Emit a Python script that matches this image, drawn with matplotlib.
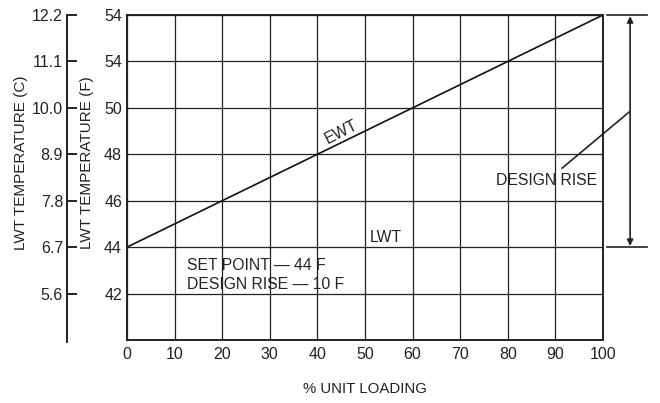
import numpy as np
import matplotlib.pyplot as plt

plt.rcParams["font.family"] = ["Liberation Sans", "DejaVu Sans"]

# Data.
loading = [0, 100]
ewt = [44, 54]
x_ticks = list(range(0, 101, 10))
f_ticks = [42, 44, 46, 48, 50, 52, 54]
f_labels = ["42", "44", "46", "48", "50", "54", "54"]
c_labels = ["5.6", "6.7", "7.8", "8.9", "10.0", "11.1", "12.2"]
set_point = 44
design_rise = 10

INK = "#222222"
FS = 11.3

fig = plt.figure(figsize=(6.6, 4.03), dpi=100)
ax = fig.add_axes([0.1924, 0.1563, 0.7212, 0.8065])
ax.set_xlim(0, 100)
ax.set_ylim(40, 54)

ax.set_xticks(x_ticks)
ax.set_yticks(f_ticks)
ax.set_yticklabels(f_labels)
ax.tick_params(length=0, labelsize=11.5, pad=3.5, colors=INK)
ax.tick_params(axis="x", pad=5)
ax.grid(True, color=INK, linewidth=0.9)
for s in ax.spines.values():
    s.set_linewidth(1.4)
    s.set_color(INK)

ax.plot(loading, ewt, color="#111111", linewidth=1.2, clip_on=False)

ax.set_xlabel("% UNIT LOADING", fontsize=10.8, color=INK)
ax.xaxis.set_label_coords(0.5, -0.128)
ax.xaxis.label.set_va("top")
ax.set_ylabel("LWT TEMPERATURE (F)", fontsize=11, color=INK)
ax.yaxis.set_label_coords(-0.069, 0.545)

# Celsius scale on its own spine further left
ax2 = ax.twinx()
ax2.set_ylim(40, 54)
ax2.spines["left"].set_position(("outward", 43))
ax2.spines["left"].set_linewidth(1.4)
ax2.spines["left"].set_color(INK)
ax2.spines["left"].set_bounds(39.9, 54)
for k in ("right", "top", "bottom"):
    ax2.spines[k].set_visible(False)
ax2.yaxis.set_ticks_position("left")
ax2.yaxis.set_label_position("left")
ax2.set_yticks(f_ticks)
ax2.set_yticklabels(c_labels)
ax2.tick_params(axis="y", direction="in", length=7.2, width=1.4,
                labelsize=11.5, pad=3, colors=INK)
ax2.set_ylabel("LWT TEMPERATURE (C)", fontsize=11, color=INK)
ax2.yaxis.set_label_coords(-0.208, 0.545)

# Texts
ax.text(45.0, 48.95, "EWT", rotation=27, fontsize=FS, ha="center", va="center",
        color=INK)
ax.text(54.4, 44.43, "LWT", fontsize=FS, ha="center", va="center", color=INK)
ax.text(12.6, 42.8, f"SET POINT \u2014 {set_point} F\nDESIGN RISE \u2014 {design_rise} F",
        fontsize=FS, ha="left", va="center", linespacing=1.3, color=INK)
ax.text(88.2, 46.89, "DESIGN RISE", fontsize=FS, ha="center", va="center",
        color=INK)

# Design rise dimension at right
top = set_point + design_rise
for yv in (top, set_point):
    ax.plot([100.8, 109.2], [yv, yv], color=INK, linewidth=1.2, clip_on=False)
ax.annotate("", xy=(105.7, top - 0.05), xytext=(105.7, set_point + 0.05),
            arrowprops=dict(arrowstyle="<|-|>", color=INK, lw=1.2,
                            mutation_scale=9, shrinkA=0, shrinkB=0),
            annotation_clip=False)
ax.plot([105.5, 91.4], [49.82, 47.4], color=INK, linewidth=1.2, clip_on=False)

fig.savefig("out.png", dpi=100)
